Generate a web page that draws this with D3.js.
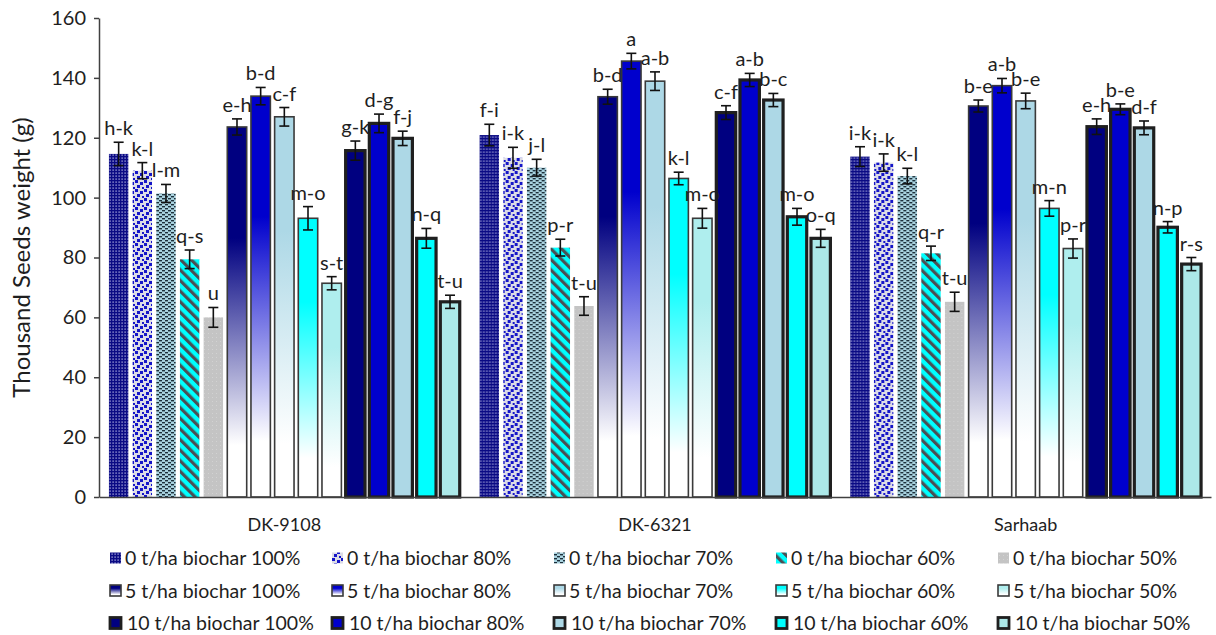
<!DOCTYPE html>
<html lang="en">
<head>
<meta charset="UTF-8">
<title>Thousand Seeds weight</title>
<style>
  body { margin: 0; background: #fff; }
  svg { display: block; }
  svg text { font-family: Lato, "Open Sans", sans-serif; fill: #1e1e1e; }
  .axis path, .axis line { stroke: #404040; stroke-width: 1.5px; }
  .y-axis text { font-size: 20px; }
  .x-axis text { font-size: 18px; }
  .bar-label { font-size: 20px; text-anchor: middle; }
  .err { stroke: #111; stroke-width: 1.6px; }
  .legend text { font-size: 19.5px; }
</style>
</head>
<body>
<svg id="chart" width="1216" height="635"></svg>
<script src="https://cdn.jsdelivr.net/npm/d3@7/dist/d3.min.js"></script>
<script>
// cultivars and treatments (bar order inside each cultivar = legend order, row by row)
const cultivars = ["DK-9108", "DK-6321", "Sarhaab"];
const rates = ["0 t/ha biochar", "5 t/ha biochar", "10 t/ha biochar"];
const levels = ["100%", "80%", "70%", "60%", "50%"];
const yTicks = [0, 20, 40, 60, 80, 100, 120, 140, 160];

// thousand seeds weight (g), standard error, and letters per cultivar
const weightDK9108 = [114.6, 109.0, 101.4, 79.4, 60.0, 123.6, 133.9, 127.0, 93.1, 71.4, 115.7, 124.8, 119.8, 86.4, 65.2];
const errorDK9108  = [3.9, 2.7, 3.0, 3.1, 3.3, 2.7, 2.9, 3.1, 3.9, 2.2, 3.2, 3.1, 2.4, 3.3, 2.2];
const lettersDK9108 = ["h-k", "k-l", "l-m", "q-s", "u", "e-h", "b-d", "c-f", "m-o", "s-t", "g-k", "d-g", "f-j", "n-q", "t-u"];

const weightDK6321 = [120.9, 113.3, 110.0, 83.3, 63.8, 133.7, 145.6, 138.9, 106.4, 93.1, 128.4, 139.3, 132.6, 93.6, 86.4];
const errorDK6321  = [3.6, 3.5, 2.8, 2.8, 3.1, 2.5, 2.6, 3.1, 2.1, 3.3, 2.3, 2.2, 2.2, 2.8, 3.0];
const lettersDK6321 = ["f-i", "i-k", "j-l", "p-r", "t-u", "b-d", "a", "a-b", "k-l", "m-o", "c-f", "a-b", "b-c", "m-o", "o-q"];

const weightSarhaab = [113.7, 111.7, 107.2, 81.4, 65.2, 130.6, 137.4, 132.3, 96.4, 83.0, 123.7, 129.5, 123.3, 90.1, 77.8];
const errorSarhaab  = [3.3, 2.9, 2.6, 2.4, 3.2, 2.0, 2.4, 2.6, 2.6, 3.2, 2.6, 1.8, 2.3, 1.9, 2.2];
const lettersSarhaab = ["i-k", "i-k", "k-l", "q-r", "t-u", "b-e", "a-b", "b-e", "m-n", "p-r", "e-h", "b-e", "d-f", "n-p", "r-s"];

const weights = [weightDK9108, weightDK6321, weightSarhaab];
const errors = [errorDK9108, errorDK6321, errorSarhaab];
const letters = [lettersDK9108, lettersDK6321, lettersSarhaab];

const treatments = [];
rates.forEach((r, ri) => levels.forEach((l, li) => treatments.push({ key: `t${ri}_${li}`, name: `${r} ${l}`, rate: ri, level: li })));

const rows = [];
cultivars.forEach((c, ci) => {
  treatments.forEach((t, ti) => {
    rows.push({ cultivar: c, t, value: weights[ci][ti], err: errors[ci][ti], letter: letters[ci][ti] });
  });
});

const levelColors = ["#000080", "#0000cd", "#add8e6", "#00ffff", "#afeeee"];

const svg = d3.select("#chart");
const margin = { left: 99, right: 5, top: 18, bottom: 138 };
const width = 1216, height = 635;

const x0 = d3.scaleBand().domain(cultivars).range([margin.left, width - margin.right]);
const x1 = d3.scaleBand().domain(treatments.map(d => d.key)).range([0, x0.bandwidth()])
  .paddingInner(0.18).paddingOuter(0.42);
const y = d3.scaleLinear().domain([0, 160]).range([height - margin.bottom, margin.top]);

// ---------- fills ----------
const defs = svg.append("defs");

// 0 t/ha: patterned fills
const p0 = defs.append("pattern").attr("id", "fill-t0_0").attr("patternUnits", "userSpaceOnUse").attr("width", 3).attr("height", 3);
p0.append("rect").attr("width", 3).attr("height", 3).attr("fill", "#0a0a84");
p0.append("rect").attr("x", 1.5).attr("y", 1.5).attr("width", 1.2).attr("height", 1.2).attr("fill", "#c8c8f0");

const p1 = defs.append("pattern").attr("id", "fill-t0_1").attr("patternUnits", "userSpaceOnUse").attr("width", 9).attr("height", 9);
p1.append("rect").attr("width", 9).attr("height", 9).attr("fill", "#dcdce6");
[[0, 0], [5, 2], [2, 5], [7, 7]].forEach(([px, py]) =>
  p1.append("rect").attr("x", px).attr("y", py).attr("width", 3).attr("height", 3).attr("fill", "#1515c8"));

const p2 = defs.append("pattern").attr("id", "fill-t0_2").attr("patternUnits", "userSpaceOnUse").attr("width", 6).attr("height", 4);
p2.append("rect").attr("width", 6).attr("height", 4).attr("fill", "#a9d3e0");
p2.append("rect").attr("x", 0).attr("y", 0).attr("width", 3).attr("height", 1.4).attr("fill", "#1d2f3a");
p2.append("rect").attr("x", 3).attr("y", 2).attr("width", 3).attr("height", 1.4).attr("fill", "#1d2f3a");

const p3 = defs.append("pattern").attr("id", "fill-t0_3").attr("patternUnits", "userSpaceOnUse")
  .attr("width", 7.5).attr("height", 7.5).attr("patternTransform", "rotate(-45)");
p3.append("rect").attr("width", 7.5).attr("height", 7.5).attr("fill", "#00ffff");
p3.append("rect").attr("width", 3.2).attr("height", 7.5).attr("fill", "#4a4f55");

const p4 = defs.append("pattern").attr("id", "fill-t0_4").attr("patternUnits", "userSpaceOnUse").attr("width", 4).attr("height", 4);
p4.append("rect").attr("width", 4).attr("height", 4).attr("fill", "#c4c4c4");
p4.append("rect").attr("x", 1).attr("y", 1).attr("width", 1).attr("height", 1).attr("fill", "#d2d2d2");

// 5 t/ha: vertical gradient to white
levelColors.forEach((c, i) => {
  const g = defs.append("linearGradient").attr("id", `fill-t1_${i}`)
    .attr("x1", 0).attr("y1", 0).attr("x2", 0).attr("y2", 1);
  g.append("stop").attr("offset", 0).attr("stop-color", c);
  g.append("stop").attr("offset", 0.3).attr("stop-color", c);
  g.append("stop").attr("offset", 0.86).attr("stop-color", "#ffffff");
  g.append("stop").attr("offset", 1).attr("stop-color", "#ffffff");
});

const fillOf = t => t.rate === 2 ? (t.level === 4 ? "#ace8e8" : levelColors[t.level]) : `url(#fill-${t.key})`;
const strokeOf = t => t.rate === 0 ? "none" : (t.rate === 1 ? "#3a3a3a" : "#1f1f1f");
const strokeW = t => t.rate === 0 ? 0 : (t.rate === 1 ? 1.6 : 3.2);

// ---------- axes ----------
svg.append("g").attr("class", "axis y-axis")
  .attr("transform", `translate(${margin.left},0)`)
  .call(d3.axisLeft(y).tickValues(yTicks).tickSize(5).tickSizeOuter(0).tickPadding(8));

svg.append("text")
  .attr("transform", `translate(30,${(y(0) + y(160)) / 2}) rotate(-90)`)
  .attr("text-anchor", "middle")
  .attr("font-size", "24px")
  .text("Thousand Seeds weight (g)");

// ---------- bars ----------
const groupSel = svg.append("g").selectAll("g").data(cultivars).join("g")
  .attr("transform", d => `translate(${x0(d)},0)`);

groupSel.selectAll("rect").data(c => rows.filter(r => r.cultivar === c)).join("rect")
  .attr("x", d => x1(d.t.key))
  .attr("y", d => y(d.value))
  .attr("width", x1.bandwidth())
  .attr("height", d => y(0) - y(d.value))
  .attr("fill", d => fillOf(d.t))
  .attr("stroke", d => strokeOf(d.t))
  .attr("stroke-width", d => strokeW(d.t));

const errG = groupSel.selectAll("g.errbar").data(c => rows.filter(r => r.cultivar === c)).join("g").attr("class", "errbar");
const cx = d => x1(d.t.key) + x1.bandwidth() / 2;
errG.append("line").attr("class", "err")
  .attr("x1", cx).attr("x2", cx)
  .attr("y1", d => y(d.value + d.err)).attr("y2", d => y(d.value - d.err));
errG.append("line").attr("class", "err")
  .attr("x1", d => cx(d) - 5).attr("x2", d => cx(d) + 5)
  .attr("y1", d => y(d.value + d.err)).attr("y2", d => y(d.value + d.err));
errG.append("line").attr("class", "err")
  .attr("x1", d => cx(d) - 5).attr("x2", d => cx(d) + 5)
  .attr("y1", d => y(d.value - d.err)).attr("y2", d => y(d.value - d.err));

groupSel.selectAll("text.bar-label").data(c => rows.filter(r => r.cultivar === c)).join("text")
  .attr("class", "bar-label")
  .attr("x", cx)
  .attr("y", d => y(d.value + d.err) - 7)
  .text(d => d.letter);

// x axis drawn last so it sits on top of bar bottoms
svg.append("g").attr("class", "axis x-axis")
  .attr("transform", `translate(0,${y(0)})`)
  .call(d3.axisBottom(x0).tickSize(0).tickPadding(21));

// ---------- legend ----------
const legend = svg.append("g").attr("class", "legend");
const item = legend.selectAll("g").data(treatments).join("g")
  .attr("transform", d => `translate(${110 + d.level * 222},${558 + d.rate * 32.5})`);
item.append("rect")
  .attr("x", 0).attr("y", -5.5)
  .attr("width", 11).attr("height", 11)
  .attr("fill", d => fillOf(d))
  .attr("stroke", d => strokeOf(d))
  .attr("stroke-width", d => d.rate === 2 ? 2.8 : strokeW(d));
item.append("text")
  .attr("x", d => d.rate === 2 ? 17 : 15)
  .attr("dy", "0.36em")
  .text(d => d.name);
</script>
</body>
</html>
